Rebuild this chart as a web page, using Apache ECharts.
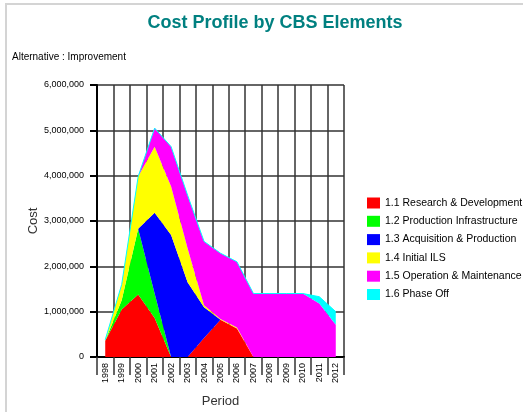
<!DOCTYPE html>
<html>
<head>
<meta charset="utf-8">
<script src="https://cdn.jsdelivr.net/npm/echarts@6/dist/echarts.min.js"></script>
<style>
html,body{margin:0;padding:0;background:#fff;}
#chart{width:523px;height:412px;}
</style>
</head>
<body>
<div id="chart"></div>
<script>
const categories = ['1998','1999','2000','2001','2002','2003','2004','2005','2006','2007','2008','2009','2010','2011','2012'];
const researchDev   = [360000, 1050000, 1380000, 860000, 0, 0, 420000, 820000, 630000, 0, 0, 0, 0, 0, 0];
const prodInfra     = [0, 200000, 1450000, 540000, 0, 0, 0, 0, 0, 0, 0, 0, 0, 0, 0];
const acqProd       = [0, 0, 0, 1780000, 2690000, 1650000, 680000, 0, 0, 0, 0, 0, 0, 0, 0];
const initialILS    = [20000, 350000, 1150000, 1460000, 1070000, 750000, 40000, 20000, 20000, 0, 0, 0, 0, 0, 0];
const operMaint     = [0, 0, 0, 410000, 880000, 1170000, 1410000, 1450000, 1450000, 1400000, 1400000, 1400000, 1400000, 1180000, 710000];
const phaseOff      = [0, 0, 0, 0, 0, 0, 0, 0, 0, 0, 0, 0, 0, 150000, 290000];
const seriesNames = ['1.1 Research & Development','1.2 Production Infrastructure','1.3 Acquisition & Production','1.4 Initial ILS','1.5 Operation & Maintenance','1.6 Phase Off'];
const seriesColors = ['#ff0000','#00ff00','#0000ff','#ffff00','#ff00ff','#00ffff'];
const seriesData = [researchDev, prodInfra, acqProd, initialILS, operMaint, phaseOff];

const FONT = '"Liberation Sans", Arial, sans-serif';
const chart = echarts.init(document.getElementById('chart'), null, {renderer:'canvas'});
const fmt = v => String(v).replace(/\B(?=(\d{3})+(?!\d))/g, ',');

chart.setOption({
  animation: false,
  backgroundColor: '#fff',
  title: [
    {text: 'Cost Profile by CBS Elements', left: 270, top: 9, textAlign: 'center',
     textStyle: {color: '#008080', fontSize: 18, fontWeight: 'bold', fontFamily: FONT}},
    {text: 'Alternative : Improvement', left: 7, top: 47,
     textStyle: {color: '#000', fontSize: 10, fontWeight: 'normal', fontFamily: FONT}}
  ],
  graphic: [
    {type: 'rect', shape: {x: 6, y: 4, width: 600, height: 460}, style: {fill: 'none', stroke: '#d4d4d4', lineWidth: 2}, silent: true}
  ],
  legend: {
    orient: 'vertical', left: 362, top: 192.5,
    itemWidth: 13, itemHeight: 11, itemGap: 7.3, icon: 'rect',
    textStyle: {fontSize: 10.5, color: '#000', fontFamily: FONT},
    data: seriesNames
  },
  grid: {left: 97, top: 85, right: 179, bottom: 55, containLabel: false, outerBoundsMode: 'none'},
  xAxis: {
    type: 'category', data: categories, boundaryGap: true,
    name: 'Period', nameLocation: 'middle', nameGap: 38,
    nameTextStyle: {fontSize: 13, color: '#333', fontFamily: FONT},
    axisLine: {lineStyle: {color: '#000', width: 2}},
    axisTick: {show: true, length: 18, lineStyle: {color: '#333', width: 1.5}},
    axisLabel: {rotate: 90, fontSize: 9, color: '#000', margin: 6, fontFamily: FONT},
    splitLine: {show: true, lineStyle: {color: '#333', width: 1.5}}
  },
  yAxis: {
    type: 'value', min: 0, max: 6000000, interval: 1000000,
    name: 'Cost', nameLocation: 'middle', nameGap: 56, nameRotate: 90,
    nameTextStyle: {fontSize: 13, color: '#333', fontFamily: FONT},
    axisLine: {show: true, lineStyle: {color: '#000', width: 2}},
    axisTick: {show: true, length: 7, lineStyle: {color: '#000', width: 2}},
    axisLabel: {fontSize: 9, color: '#000', margin: 13, fontFamily: FONT, formatter: fmt},
    splitLine: {show: true, lineStyle: {color: '#333', width: 1.5}}
  },
  series: seriesData.map((d, i) => ({
    name: seriesNames[i], type: 'line', stack: 'total', data: d,
    symbol: 'none', smooth: false,
    itemStyle: {color: seriesColors[i]},
    lineStyle: {width: i === 5 ? 1 : 0, color: seriesColors[i]},
    areaStyle: {color: seriesColors[i], opacity: 1}
  }))
});
</script>
</body>
</html>
